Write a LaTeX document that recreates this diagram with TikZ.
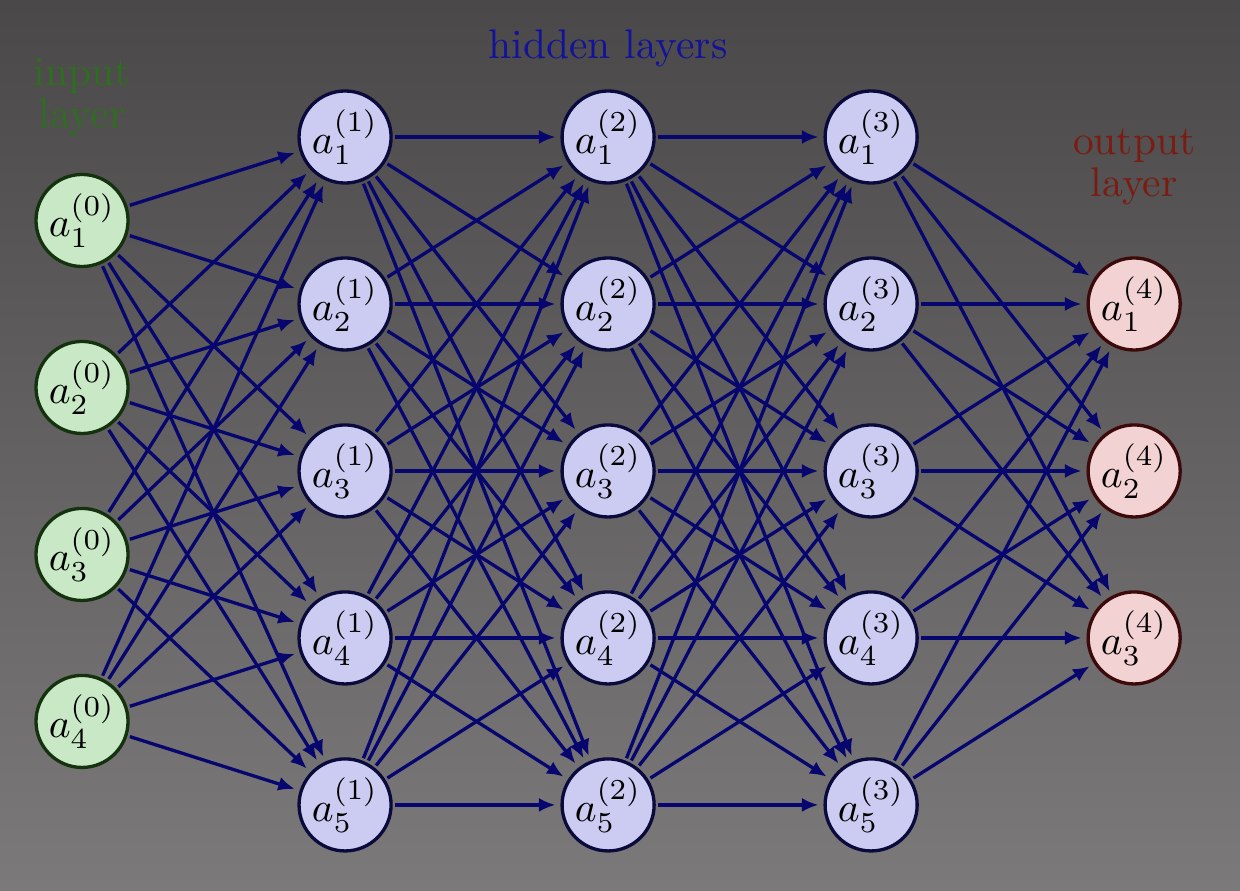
\documentclass[tikz,border=0pt]{standalone}
\usetikzlibrary{arrows.meta}

\definecolor{bgtop}{HTML}{4A4848}
\definecolor{bgbottom}{HTML}{7B7979}
\definecolor{inputfill}{HTML}{C8E8C6}
\definecolor{inputdraw}{HTML}{14320E}
\definecolor{hiddenfill}{HTML}{CCCCF2}
\definecolor{hiddendraw}{HTML}{0A0A3C}
\definecolor{outputfill}{HTML}{F2D2D2}
\definecolor{outputdraw}{HTML}{3C0A0A}
\definecolor{synapsecol}{HTML}{06066E}
\definecolor{inputtext}{HTML}{2E6E20}
\definecolor{hiddentext}{HTML}{12129A}
\definecolor{outputtext}{HTML}{7A1C12}

\tikzset{
    neuron/.style={circle, thick, minimum size=0.78cm, inner sep=0pt},
    inputneuron/.style={neuron, draw=inputdraw, fill=inputfill},
    hiddenneuron/.style={neuron, draw=hiddendraw, fill=hiddenfill},
    outputneuron/.style={neuron, draw=outputdraw, fill=outputfill},
    synapse/.style={thick, draw=synapsecol, -{Latex[length=4pt,width=3.4pt]}, shorten >=1.2pt, shorten <=0.6pt},
    layerlabel/.style={align=center, font=\linespread{0.85}\selectfont}
}

\begin{document}
\begin{tikzpicture}
    % Fondo
    \useasboundingbox (0,0) rectangle (10.508,7.542);
    \shade[top color=bgtop, bottom color=bgbottom] (0,0) rectangle (10.508,7.542);

    % Capa de entrada
    \foreach \i in {1,...,4} {
        \node[inputneuron] (I-\i) at (0.695, {3.551+(2.5-\i)*1.415}) {$a_{\i}^{(0)}$};
    }

    % Capas ocultas
    \foreach \l in {1,2,3} {
        \foreach \i in {1,...,5} {
            \node[hiddenneuron] (H\l-\i) at ({0.695+2.229*\l}, {3.551+(3-\i)*1.415}) {$a_{\i}^{(\l)}$};
        }
    }

    % Capa de salida
    \foreach \i in {1,2,3} {
        \node[outputneuron] (O-\i) at (9.611, {3.551+(2-\i)*1.415}) {$a_{\i}^{(4)}$};
    }

    % Conexiones
    \foreach \i in {1,...,4} {
        \foreach \j in {1,...,5} {
            \draw[synapse] (I-\i) -- (H1-\j);
        }
    }
    \foreach \l/\m in {1/2, 2/3} {
        \foreach \i in {1,...,5} {
            \foreach \j in {1,...,5} {
                \draw[synapse] (H\l-\i) -- (H\m-\j);
            }
        }
    }
    \foreach \i in {1,...,5} {
        \foreach \j in {1,2,3} {
            \draw[synapse] (H3-\i) -- (O-\j);
        }
    }

    % Etiquetas
    \node[layerlabel, text=inputtext] (inlabel) at (0.695, 6.72) {input\\layer};
    \node[anchor=base, text=hiddentext] (hidlabel) at (5.153, 7.048) {hidden layers};
    \node[layerlabel, text=outputtext] (outlabel) at (9.611, 6.127) {output\\layer};
\end{tikzpicture}
\end{document}
